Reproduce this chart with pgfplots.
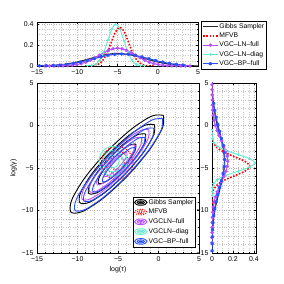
\documentclass[border=0pt]{standalone}
\usepackage{fontspec}
\setmainfont{Liberation Sans}
\usepackage{pgfplots}
\pgfplotsset{compat=1.18}
\definecolor{cgibbs}{RGB}{0,0,0}
\definecolor{cmfvb}{RGB}{255,0,0}
\definecolor{clnfull}{RGB}{185,80,255}
\definecolor{clndiag}{RGB}{100,235,205}
\definecolor{cbp}{RGB}{40,80,255}
\pgfplotsset{
 mystyle/.style={
  scale only axis,
  grid=both,
  major grid style={gray!60, dotted, line width=0.35pt},
  minor grid style={gray!45, dotted, line width=0.3pt},
  tick align=inside,
  major tick length=2bp,
  minor tick length=1bp,
  tick style={black, line width=0.3pt},
  axis line style={black, line width=0.5pt},
  tick label style={font=\fontsize{7}{8}\selectfont},
  label style={font=\fontsize{7}{8}\selectfont},
  legend style={font=\fontsize{6.8}{8}\selectfont, draw=black, line width=0.5pt, inner sep=1bp, row sep=0.5bp, nodes={inner sep=1.2bp}},
  legend cell align=left,
 },
 gibbs/.style={cgibbs!85, line width=1.1pt, smooth},
 mfvb/.style={cmfvb, line width=1.6pt, dash pattern=on 1.6pt off 1.6pt, smooth},
 lnfull/.style={clnfull, line width=1pt, mark=*, mark size=1.2pt, smooth},
 lndiag/.style={clndiag, line width=0.9pt, mark=+, mark size=1.4pt, smooth},
 bpfull/.style={cbp, line width=1pt, mark=asterisk, mark size=1.7pt, smooth},
}
\begin{document}
\begin{tikzpicture}
\useasboundingbox (0,0) rectangle (284bp,284bp);
% ---------------- top marginal
\begin{axis}[mystyle, at={(37bp,218bp)}, anchor=south west, width=161bp, height=44bp,
  xmin=-15, xmax=5, ymin=0, ymax=0.42,
  xtick={-15,-10,-5,0,5}, xticklabels={−15,−10,−5,0,5},
  ytick={0,0.2,0.4}, yticklabels={0,0.2,0.4},
  minor x tick num=4, minor y tick num=3,
  legend style={at={(1.02,1.02)}, anchor=north west},
  legend image code/.code={\draw[mark repeat=2,mark phase=2,#1] plot coordinates {(0cm,0cm) (0.25cm,0cm) (0.5cm,0cm)};}]
\addplot[gibbs] coordinates {(-16.55,0.0003)(-14.9,0.0013)(-13.25,0.0053)(-11.6,0.0162)(-9.95,0.0390)(-8.3,0.0728)(-6.65,0.1059)(-5,0.12)(-3.35,0.1059)(-1.7,0.0728)(-0.05,0.0390)(1.6,0.0162)(3.25,0.0053)(4.9,0.0013)(6.55,0.0003)};
\addlegendentry{Gibbs Sampler}
\addplot[mfvb] coordinates {(-9.02,0.0001)(-8.48,0.0008)(-7.94,0.0041)(-7.40,0.0162)(-6.86,0.0501)(-6.32,0.1201)(-5.78,0.2244)(-5.24,0.3265)(-4.7,0.37)(-4.16,0.3265)(-3.62,0.2244)(-3.08,0.1201)(-2.54,0.0501)(-2.0,0.0162)(-1.46,0.0041)(-0.92,0.0008)(-0.38,0.0001)};
\addlegendentry{MFVB}
\addplot[lnfull] coordinates {(-14,0.0001)(-13.44,0.0002)(-12.88,0.0004)(-12.31,0.0009)(-11.75,0.0019)(-11.19,0.0039)(-10.63,0.0075)(-10.06,0.0135)(-9.5,0.0230)(-8.94,0.0368)(-8.38,0.0552)(-7.81,0.0778)(-7.25,0.1031)(-6.69,0.1283)(-6.13,0.1500)(-5.56,0.1648)(-5,0.17)(-4.44,0.1648)(-3.88,0.1500)(-3.31,0.1283)(-2.75,0.1031)(-2.19,0.0778)(-1.63,0.0552)(-1.06,0.0368)(-0.5,0.0230)(0.06,0.0135)(0.63,0.0075)(1.19,0.0039)(1.75,0.0019)(2.31,0.0009)(2.88,0.0004)(3.44,0.0002)(4.0,0.0001)};
\addlegendentry{VGC--LN--full}
\addplot[lndiag] coordinates {(-8.7,0.0009)(-8.2,0.0044)(-7.7,0.0176)(-7.2,0.0541)(-6.7,0.1299)(-6.2,0.2426)(-5.7,0.353)(-5.2,0.40)(-4.7,0.353)(-4.2,0.2426)(-3.7,0.1299)(-3.2,0.0541)(-2.7,0.0176)(-2.2,0.0044)(-1.7,0.0009)};
\addlegendentry{VGC--LN--diag}
\addplot[bpfull] coordinates {(-15.55,0.0006)(-14.7,0.0013)(-13.85,0.0026)(-13.0,0.0050)(-12.15,0.0092)(-11.3,0.0156)(-10.45,0.0249)(-9.6,0.0373)(-8.75,0.0526)(-7.9,0.0697)(-7.05,0.0868)(-6.2,0.1015)(-5.35,0.1115)(-4.5,0.115)(-3.65,0.1115)(-2.8,0.1015)(-1.95,0.0868)(-1.1,0.0697)(-0.25,0.0526)(0.6,0.0373)(1.45,0.0249)(2.3,0.0156)(3.15,0.0092)};
\addlegendentry{VGC--BP--full}
\end{axis}
% ---------------- main contour axis
\begin{axis}[mystyle, at={(37bp,31bp)}, anchor=south west, width=162bp, height=170bp,
  xmin=-15, xmax=5, ymin=-15, ymax=5,
  xtick={-15,-10,-5,0,5}, xticklabels={−15,−10,−5,0,5},
  ytick={-15,-10,-5,0,5}, yticklabels={−15,−10,−5,0,5},
  minor x tick num=4, minor y tick num=4,
  xlabel={log(τ)}, ylabel={log(γ)},
  xlabel style={yshift=2bp}, ylabel style={yshift=-2bp},
  legend style={at={(0.981,0.035)}, anchor=south east, row sep=1bp},
  legend image code/.code={
    \draw[#1, line width=0.9pt] (0.25cm,0cm) ellipse (0.22cm and 0.1cm);
    \draw[#1, line width=0.9pt] (0.25cm,0cm) ellipse (0.13cm and 0.055cm);
    \draw[#1, line width=0.9pt] (0.25cm,0cm) ellipse (0.05cm and 0.02cm);
  }]
% Gibbs
\addplot[cgibbs, line width=0.9pt, smooth] coordinates {(0.6,1.2)(-0.839,1.111)(-3.419,-0.481)(-6.45,-3.15)(-9.119,-6.181)(-10.711,-8.761)(-10.8,-10.2)(-9.361,-10.111)(-6.781,-8.519)(-3.75,-5.85)(-1.081,-2.819)(0.511,-0.239)(0.6,1.2)};
\addlegendentry{Gibbs Sampler}
\addplot[cgibbs, line width=0.9pt, smooth, forget plot] coordinates {(-0.5,0.1)(-1.666,0.034)(-3.753,-1.247)(-6.2,-3.4)(-8.353,-5.847)(-9.634,-7.934)(-9.7,-9.1)(-8.534,-9.034)(-6.447,-7.753)(-4.0,-5.6)(-1.847,-3.153)(-0.566,-1.066)(-0.5,0.1)};
\addplot[cgibbs, line width=0.9pt, smooth, forget plot] coordinates {(-1.6,-1.0)(-2.494,-1.044)(-4.086,-2.014)(-5.95,-3.65)(-7.586,-5.514)(-8.556,-7.106)(-8.6,-8.0)(-7.706,-7.956)(-6.114,-6.986)(-4.25,-5.35)(-2.614,-3.486)(-1.644,-1.894)(-1.6,-1.0)};
\addplot[cgibbs, line width=0.9pt, smooth, forget plot] coordinates {(-2.8,-2.2)(-3.383,-2.233)(-4.426,-2.874)(-5.65,-3.95)(-6.726,-5.174)(-7.367,-6.217)(-7.4,-6.8)(-6.817,-6.767)(-5.774,-6.126)(-4.55,-5.05)(-3.474,-3.826)(-2.833,-2.783)(-2.8,-2.2)};
% MFVB
\addplot[cmfvb, line width=1.1pt, dash pattern=on 1.2pt off 1.2pt, smooth] coordinates {(-3.15,-4.4)(-3.411,-3.425)(-4.125,-2.711)(-5.1,-2.45)(-6.075,-2.711)(-6.789,-3.425)(-7.05,-4.4)(-6.789,-5.375)(-6.075,-6.089)(-5.1,-6.35)(-4.125,-6.089)(-3.411,-5.375)(-3.15,-4.4)};
\addlegendentry{MFVB}
\addplot[cmfvb, line width=1.1pt, dash pattern=on 1.2pt off 1.2pt, smooth, forget plot] coordinates {(-3.7,-4.4)(-3.888,-3.7)(-4.4,-3.188)(-5.1,-3.0)(-5.8,-3.188)(-6.312,-3.7)(-6.5,-4.4)(-6.312,-5.1)(-5.8,-5.612)(-5.1,-5.8)(-4.4,-5.612)(-3.888,-5.1)(-3.7,-4.4)};
\addplot[cmfvb, line width=1.1pt, dash pattern=on 1.2pt off 1.2pt, smooth, forget plot] coordinates {(-4.25,-4.4)(-4.364,-3.975)(-4.675,-3.664)(-5.1,-3.55)(-5.525,-3.664)(-5.836,-3.975)(-5.95,-4.4)(-5.836,-4.825)(-5.525,-5.136)(-5.1,-5.25)(-4.675,-5.136)(-4.364,-4.825)(-4.25,-4.4)};
% VGC-LN-full
\addplot[clnfull, line width=0.9pt, smooth] coordinates {(-1.2,-0.5)(-2.224,-0.574)(-4.073,-1.727)(-6.25,-3.65)(-8.173,-5.827)(-9.326,-7.676)(-9.4,-8.7)(-8.376,-8.626)(-6.527,-7.473)(-4.35,-5.55)(-2.427,-3.373)(-1.274,-1.524)(-1.2,-0.5)};
\addlegendentry{VGCLN--full}
\addplot[clnfull, line width=0.9pt, smooth, forget plot] coordinates {(-2.1,-1.4)(-2.904,-1.454)(-4.35,-2.35)(-6.05,-3.85)(-7.55,-5.55)(-8.446,-6.996)(-8.5,-7.8)(-7.696,-7.746)(-6.25,-6.85)(-4.55,-5.35)(-3.05,-3.65)(-2.154,-2.204)(-2.1,-1.4)};
\addplot[clnfull, line width=0.9pt, smooth, forget plot] coordinates {(-3.0,-2.3)(-3.583,-2.333)(-4.626,-2.974)(-5.85,-4.05)(-6.926,-5.274)(-7.567,-6.317)(-7.6,-6.9)(-7.017,-6.867)(-5.974,-6.226)(-4.75,-5.15)(-3.674,-3.926)(-3.033,-2.883)(-3.0,-2.3)};
\addplot[clnfull, line width=0.9pt, smooth, forget plot] coordinates {(-3.9,-3.2)(-4.263,-3.213)(-4.903,-3.597)(-5.65,-4.25)(-6.303,-4.997)(-6.687,-5.637)(-6.7,-6.0)(-6.337,-5.987)(-5.697,-5.603)(-4.95,-4.95)(-4.297,-4.203)(-3.913,-3.563)(-3.9,-3.2)};
% VGC-LN-diag
\addplot[clndiag, line width=0.9pt, smooth] coordinates {(-3.85,-4.2)(-4.084,-3.325)(-4.725,-2.684)(-5.6,-2.45)(-6.475,-2.684)(-7.116,-3.325)(-7.35,-4.2)(-7.116,-5.075)(-6.475,-5.716)(-5.6,-5.95)(-4.725,-5.716)(-4.084,-5.075)(-3.85,-4.2)};
\addlegendentry{VGCLN--diag}
\addplot[clndiag, line width=0.9pt, smooth, forget plot] coordinates {(-4.35,-4.2)(-4.517,-3.575)(-4.975,-3.117)(-5.6,-2.95)(-6.225,-3.117)(-6.683,-3.575)(-6.85,-4.2)(-6.683,-4.825)(-6.225,-5.283)(-5.6,-5.45)(-4.975,-5.283)(-4.517,-4.825)(-4.35,-4.2)};
\addplot[clndiag, line width=0.9pt, smooth, forget plot] coordinates {(-4.85,-4.2)(-4.95,-3.825)(-5.225,-3.55)(-5.6,-3.45)(-5.975,-3.55)(-6.25,-3.825)(-6.35,-4.2)(-6.25,-4.575)(-5.975,-4.85)(-5.6,-4.95)(-5.225,-4.85)(-4.95,-4.575)(-4.85,-4.2)};
% VGC-BP-full
\addplot[cbp, line width=0.9pt, smooth] coordinates {(0.5,0.8)(-0.799,0.651)(-3.196,-0.904)(-6.05,-3.45)(-8.596,-6.304)(-10.151,-8.701)(-10.3,-10.0)(-9.001,-9.851)(-6.604,-8.296)(-3.75,-5.75)(-1.204,-2.896)(0.351,-0.499)(0.5,0.8)};
\addlegendentry{VGC--BP--full}
\addplot[cbp, line width=0.9pt, smooth, forget plot] coordinates {(-0.6,-0.3)(-1.636,-0.416)(-3.547,-1.653)(-5.82,-3.68)(-7.847,-5.953)(-9.084,-7.864)(-9.2,-8.9)(-8.164,-8.784)(-6.253,-7.547)(-3.98,-5.52)(-1.953,-3.247)(-0.716,-1.336)(-0.6,-0.3)};
\addplot[cbp, line width=0.9pt, smooth, forget plot] coordinates {(-1.7,-1.4)(-2.469,-1.489)(-3.889,-2.411)(-5.58,-3.92)(-7.089,-5.611)(-8.011,-7.031)(-8.1,-7.8)(-7.331,-7.711)(-5.911,-6.789)(-4.22,-5.28)(-2.711,-3.589)(-1.789,-2.169)(-1.7,-1.4)};
\addplot[cbp, line width=0.9pt, smooth, forget plot] coordinates {(-2.9,-2.6)(-3.383,-2.653)(-4.272,-3.228)(-5.33,-4.17)(-6.272,-5.228)(-6.847,-6.117)(-6.9,-6.6)(-6.417,-6.547)(-5.528,-5.972)(-4.47,-5.03)(-3.528,-3.972)(-2.953,-3.083)(-2.9,-2.6)};
\end{axis}
% ---------------- right marginal
\begin{axis}[mystyle, at={(212bp,31bp)}, anchor=south west, width=44bp, height=170bp,
  xmin=0, xmax=0.42, ymin=-15, ymax=5,
  xtick={0,0.2,0.4}, xticklabels={0,0.2,0.4},
  ytick={-15,-10,-5,0,5}, yticklabels={−15,−10,−5,0,5},
  minor x tick num=3, minor y tick num=4]
\addplot[gibbs] coordinates {(0.0003,-15.85)(0.0013,-14.2)(0.0053,-12.55)(0.0162,-10.9)(0.0390,-9.25)(0.0728,-7.6)(0.1059,-5.95)(0.12,-4.3)(0.1059,-2.65)(0.0728,-1.0)(0.0390,0.65)(0.0162,2.3)(0.0053,3.95)(0.0013,5.6)(0.0003,7.25)};
\addplot[mfvb] coordinates {(0.0001,-9.2)(0.0008,-8.65)(0.0040,-8.1)(0.0158,-7.55)(0.0487,-7.0)(0.1169,-6.45)(0.2183,-5.9)(0.3177,-5.35)(0.36,-4.8)(0.3177,-4.25)(0.2183,-3.7)(0.1169,-3.15)(0.0487,-2.6)(0.0158,-2.05)(0.0040,-1.5)(0.0008,-0.95)(0.0001,-0.4)};
\addplot[lnfull] coordinates {(0.0000,-13.8)(0.0001,-13.2)(0.0003,-12.6)(0.0008,-12.0)(0.0017,-11.4)(0.0034,-10.8)(0.0066,-10.2)(0.0119,-9.6)(0.0203,-9.0)(0.0324,-8.4)(0.0487,-7.8)(0.0687,-7.2)(0.0910,-6.6)(0.1132,-6.0)(0.1324,-5.4)(0.1454,-4.8)(0.15,-4.2)(0.1454,-3.6)(0.1324,-3.0)(0.1132,-2.4)(0.0910,-1.8)(0.0687,-1.2)(0.0487,-0.6)(0.0324,0.0)(0.0203,0.6)(0.0119,1.2)(0.0066,1.8)(0.0034,2.4)(0.0017,3.0)(0.0008,3.6)(0.0003,4.2)(0.0001,4.8)(0.0000,5.4)};
\addplot[lndiag] coordinates {(0.0001,-8.28)(0.0009,-7.795)(0.0046,-7.31)(0.0180,-6.825)(0.0555,-6.34)(0.1331,-5.855)(0.2487,-5.37)(0.3618,-4.885)(0.41,-4.4)(0.3618,-3.915)(0.2487,-3.43)(0.1331,-2.945)(0.0555,-2.46)(0.0180,-1.975)(0.0046,-1.49)(0.0009,-1.005)(0.0001,-0.52)};
\addplot[bpfull] coordinates {(0.0003,-15.55)(0.0006,-14.73)(0.0013,-13.9)(0.0027,-13.08)(0.0053,-12.25)(0.0096,-11.43)(0.0162,-10.6)(0.0260,-9.78)(0.0390,-8.95)(0.0549,-8.13)(0.0728,-7.3)(0.0906,-6.48)(0.1059,-5.65)(0.1163,-4.83)(0.12,-4)(0.1163,-3.18)(0.1059,-2.35)(0.0906,-1.53)(0.0728,-0.7)(0.0549,0.13)(0.0390,0.95)(0.0260,1.78)(0.0162,2.6)};
\end{axis}
\end{tikzpicture}
\end{document}
